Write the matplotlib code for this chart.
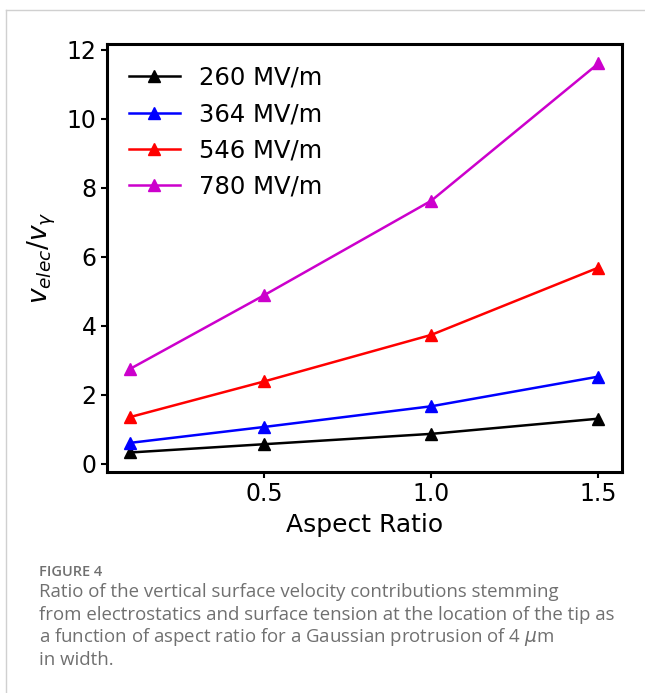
import matplotlib
matplotlib.use("Agg")
import matplotlib.pyplot as plt
from matplotlib.lines import Line2D

# data
aspect_ratio = [0.1, 0.5, 1.0, 1.5]
v_260 = [0.32, 0.56, 0.86, 1.30]
v_364 = [0.60, 1.06, 1.66, 2.52]
v_546 = [1.35, 2.38, 3.73, 5.68]
v_780 = [2.75, 4.88, 7.62, 11.60]
labels = ["260 MV/m", "364 MV/m", "546 MV/m", "780 MV/m"]
colors = ["black", "blue", "red", "#cc00cc"]

fig = plt.figure(figsize=(6.45, 6.93), dpi=100)
ax = fig.add_axes([0.166, 0.319, 0.798, 0.6175])

for vals, lab, c in zip([v_260, v_364, v_546, v_780], labels, colors):
    ax.plot(aspect_ratio, vals, color=c, marker="^", markersize=9, lw=1.8, label=lab)

ax.set_xticks([0.5, 1.0, 1.5])
ax.set_yticks([0, 2, 4, 6, 8, 10, 12])
ax.tick_params(labelsize=17, width=1.5, length=4)
for s in ax.spines.values():
    s.set_linewidth(2.2)
ax.set_xlabel("Aspect Ratio", fontsize=18, labelpad=5)
ax.set_ylabel(r"$v_{elec}/v_{\gamma}$", fontsize=19, labelpad=6)
ax.legend(loc="upper left", frameon=False, fontsize=17.5, handlelength=2.1,
          labelspacing=0.5)

# page decoration: light frame lines
fig.add_artist(Line2D([0.009, 1.0], [1 - 10 / 693, 1 - 10 / 693], color="#d0d0d0", lw=1))
fig.add_artist(Line2D([0.009, 0.009], [0, 1 - 10 / 693], color="#d0d0d0", lw=1))

# caption
fig.text(39 / 645, 1 - 572 / 693, "FIGURE 4", fontsize=10.5, color="#707070",
         family="Open Sans", fontweight="semibold", va="center")
caption = ["Ratio of the vertical surface velocity contributions stemming",
           "from electrostatics and surface tension at the location of the tip as",
           r"a function of aspect ratio for a Gaussian protrusion of 4 $\mu$m",
           "in width."]
for i, line in enumerate(caption):
    fig.text(39 / 645, 1 - (592 + 22.7 * i) / 693, line, fontsize=13.4, color="#707070",
             family="Open Sans", va="center")

fig.savefig("out.png", dpi=100)
